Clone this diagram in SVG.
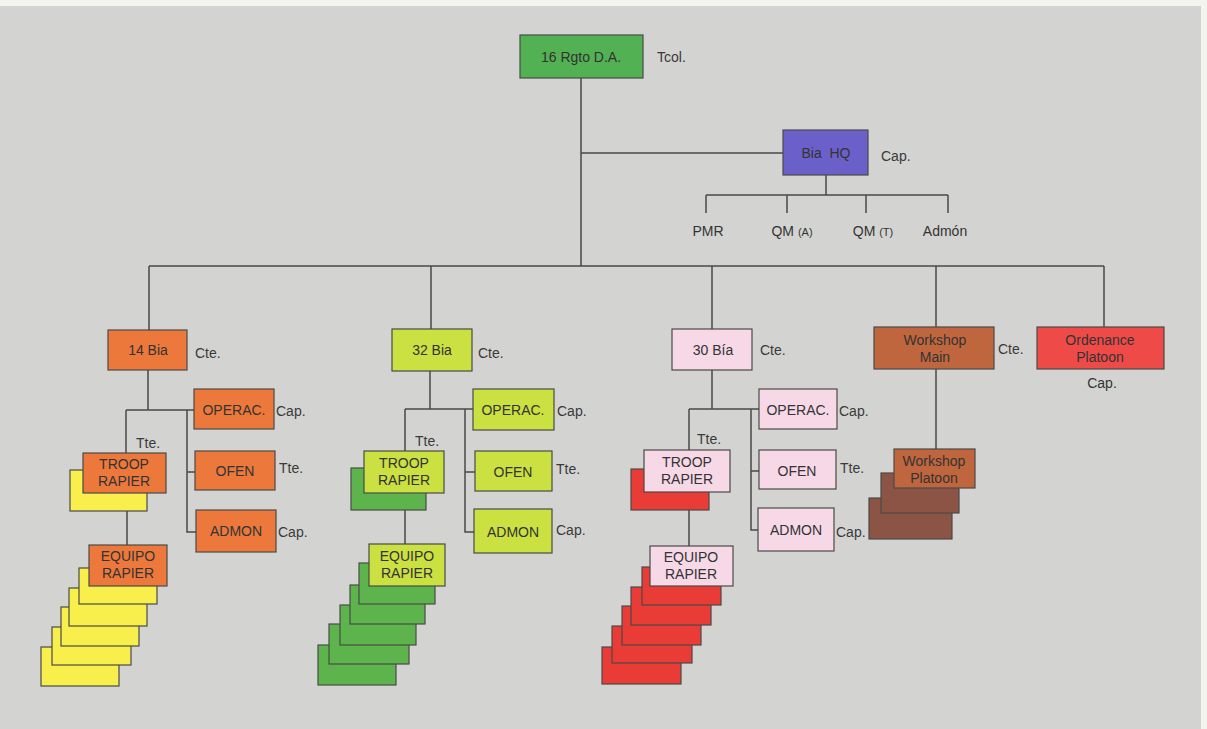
<svg xmlns="http://www.w3.org/2000/svg" width="1207" height="729" viewBox="0 0 1207 729">
<style>
.bx{stroke:#4a4a48;stroke-width:1.2}
.t{font-family:"Liberation Sans",Arial,sans-serif;font-size:14px;fill:#333;text-anchor:middle}
.l{font-family:"Liberation Sans",Arial,sans-serif;font-size:14px;fill:#3a3a3a}
.sm{font-size:11px}
.c{fill:none;stroke:#4a4a48;stroke-width:1.5}
.green{fill:#52b152}.purple{fill:#6b60c9}.orange{fill:#ec793b}.lime{fill:#cbe041}.pink{fill:#f6d8e6}
.brown{fill:#c0663f}.red{fill:#ee4a48}.yel{fill:#f8ef4c}.dgreen{fill:#5db34c}.dred{fill:#e93c36}.dbrown{fill:#8c5444}
</style>
<rect x="0" y="0" width="1207" height="729" fill="#f4f4ef"/>
<rect x="0" y="6" width="1201" height="723" fill="#d3d3d1"/>

<g id="connectors">
<path class="c" d="M581 78V266M581 153H784M826 175V195M706 195H948M706 195V213M787 195V213M866 195V213M948 195V213"/>
<path class="c" d="M149 266H1104M149 266V330M431 266V330M712 266V330M936 266V327M1104 266V327"/>
<path class="c" d="M148 370V410M126 410H195M187 410V532H196M187 472H195M126 410V453M127 511V545"/>
<path class="c" d="M430 370V409M405 409H474M465 409V532H474M465 472H475M405 409V451M405 510V544"/>
<path class="c" d="M712 370V409M689 409H759M751 409V530H758M751 471H759M689 409V450M689 510V546"/>
<path class="c" d="M936 369V449"/>
</g>

<g id="root"><rect class="bx green" x="520" y="35" width="123" height="43"/><text class="t" x="581" y="62">16 Rgto D.A.</text><text class="l" x="657" y="62">Tcol.</text></g>

<g id="bia-hq"><rect class="bx purple" x="783" y="130" width="85" height="45"/><text class="t" x="826" y="158" xml:space="preserve">Bia  HQ</text><text class="l" x="881" y="161">Cap.</text></g>

<g id="hq-staff">
<text class="t" x="708" y="236">PMR</text>
<text class="t" x="792" y="236">QM <tspan class="sm">(A)</tspan></text>
<text class="t" x="873" y="236">QM <tspan class="sm">(T)</tspan></text>
<text class="t" x="945" y="236">Admón</text>
</g>

<g id="bia14">
<rect class="bx orange" x="108" y="330" width="79" height="40"/><text class="t" x="148" y="355">14 Bia</text><text class="l" x="195" y="358">Cte.</text>
</g>
<g id="bia14-operac"><rect class="bx orange" x="194" y="389" width="80" height="40"/><text class="t" x="234" y="415">OPERAC.</text><text class="l" x="276" y="416">Cap.</text></g>
<g id="bia14-ofen"><rect class="bx orange" x="195" y="451" width="80" height="39"/><text class="t" x="235" y="476">OFEN</text><text class="l" x="279" y="473">Tte.</text></g>
<g id="bia14-admon"><rect class="bx orange" x="196" y="510" width="80" height="42"/><text class="t" x="236" y="536">ADMON</text><text class="l" x="278" y="537">Cap.</text></g>
<g id="bia14-troop">
<rect class="bx yel" x="70" y="470" width="77" height="41"/>
<rect class="bx orange" x="83" y="453" width="83" height="40"/>
<text class="t" x="124" y="469">TROOP</text><text class="t" x="124" y="486">RAPIER</text>
<text class="l" x="136" y="448">Tte.</text>
</g>
<g id="bia14-equipo">
<rect class="bx yel" x="41" y="647" width="78" height="39"/>
<rect class="bx yel" x="52" y="627" width="79" height="38"/>
<rect class="bx yel" x="61" y="607" width="78" height="39"/>
<rect class="bx yel" x="69" y="588" width="78" height="38"/>
<rect class="bx yel" x="79" y="568" width="78" height="36"/>
<rect class="bx orange" x="89" y="545" width="78" height="41"/>
<text class="t" x="128" y="561">EQUIPO</text><text class="t" x="128" y="578">RAPIER</text>
</g>

<g id="bia32">
<rect class="bx lime" x="392" y="329" width="80" height="42"/><text class="t" x="432" y="355">32 Bia</text><text class="l" x="478" y="358">Cte.</text>
</g>
<g id="bia32-operac"><rect class="bx lime" x="473" y="389" width="81" height="41"/><text class="t" x="513" y="415">OPERAC.</text><text class="l" x="557" y="416">Cap.</text></g>
<g id="bia32-ofen"><rect class="bx lime" x="475" y="451" width="77" height="40"/><text class="t" x="513" y="477">OFEN</text><text class="l" x="556" y="474">Tte.</text></g>
<g id="bia32-admon"><rect class="bx lime" x="474" y="509" width="78" height="44"/><text class="t" x="513" y="537">ADMON</text><text class="l" x="556" y="535">Cap.</text></g>
<g id="bia32-troop">
<rect class="bx dgreen" x="351" y="468" width="75" height="42"/>
<rect class="bx lime" x="364" y="451" width="80" height="42"/>
<text class="t" x="404" y="468">TROOP</text><text class="t" x="404" y="485">RAPIER</text>
<text class="l" x="415" y="446">Tte.</text>
</g>
<g id="bia32-equipo">
<rect class="bx dgreen" x="318" y="645" width="78" height="40"/>
<rect class="bx dgreen" x="329" y="624" width="80" height="40"/>
<rect class="bx dgreen" x="340" y="605" width="76" height="40"/>
<rect class="bx dgreen" x="350" y="585" width="75" height="39"/>
<rect class="bx dgreen" x="359" y="563" width="76" height="41"/>
<rect class="bx lime" x="369" y="544" width="76" height="42"/>
<text class="t" x="407" y="561">EQUIPO</text><text class="t" x="407" y="578">RAPIER</text>
</g>

<g id="bia30">
<rect class="bx pink" x="672" y="329" width="80" height="41"/><text class="t" x="713" y="355">30 Bía</text><text class="l" x="760" y="355">Cte.</text>
</g>
<g id="bia30-operac"><rect class="bx pink" x="759" y="389" width="78" height="40"/><text class="t" x="798" y="415">OPERAC.</text><text class="l" x="839" y="416">Cap.</text></g>
<g id="bia30-ofen"><rect class="bx pink" x="759" y="450" width="77" height="39"/><text class="t" x="797" y="476">OFEN</text><text class="l" x="840" y="473">Tte.</text></g>
<g id="bia30-admon"><rect class="bx pink" x="758" y="508" width="76" height="43"/><text class="t" x="796" y="535">ADMON</text><text class="l" x="836" y="537">Cap.</text></g>
<g id="bia30-troop">
<rect class="bx dred" x="631" y="469" width="78" height="41"/>
<rect class="bx pink" x="644" y="450" width="86" height="42"/>
<text class="t" x="687" y="467">TROOP</text><text class="t" x="687" y="484">RAPIER</text>
<text class="l" x="697" y="444">Tte.</text>
</g>
<g id="bia30-equipo">
<rect class="bx dred" x="602" y="647" width="79" height="37"/>
<rect class="bx dred" x="612" y="626" width="80" height="37"/>
<rect class="bx dred" x="622" y="606" width="79" height="39"/>
<rect class="bx dred" x="631" y="587" width="80" height="38"/>
<rect class="bx dred" x="642" y="567" width="79" height="38"/>
<rect class="bx pink" x="650" y="546" width="83" height="40"/>
<text class="t" x="691" y="562">EQUIPO</text><text class="t" x="691" y="579">RAPIER</text>
</g>

<g id="workshop-main">
<rect class="bx brown" x="874" y="327" width="120" height="42"/><text class="t" x="935" y="345">Workshop</text><text class="t" x="935" y="362">Main</text><text class="l" x="998" y="354">Cte.</text>
</g>
<g id="workshop-platoon">
<rect class="bx dbrown" x="869" y="498" width="83" height="41"/>
<rect class="bx dbrown" x="881" y="473" width="78" height="40"/>
<rect class="bx brown" x="894" y="449" width="81" height="39"/>
<text class="t" x="934" y="466">Workshop</text><text class="t" x="934" y="483">Platoon</text>
</g>

<g id="ordenance">
<rect class="bx red" x="1037" y="327" width="127" height="42"/><text class="t" x="1100" y="345">Ordenance</text><text class="t" x="1100" y="362">Platoon</text><text class="t" x="1102" y="388">Cap.</text>
</g>
</svg>
